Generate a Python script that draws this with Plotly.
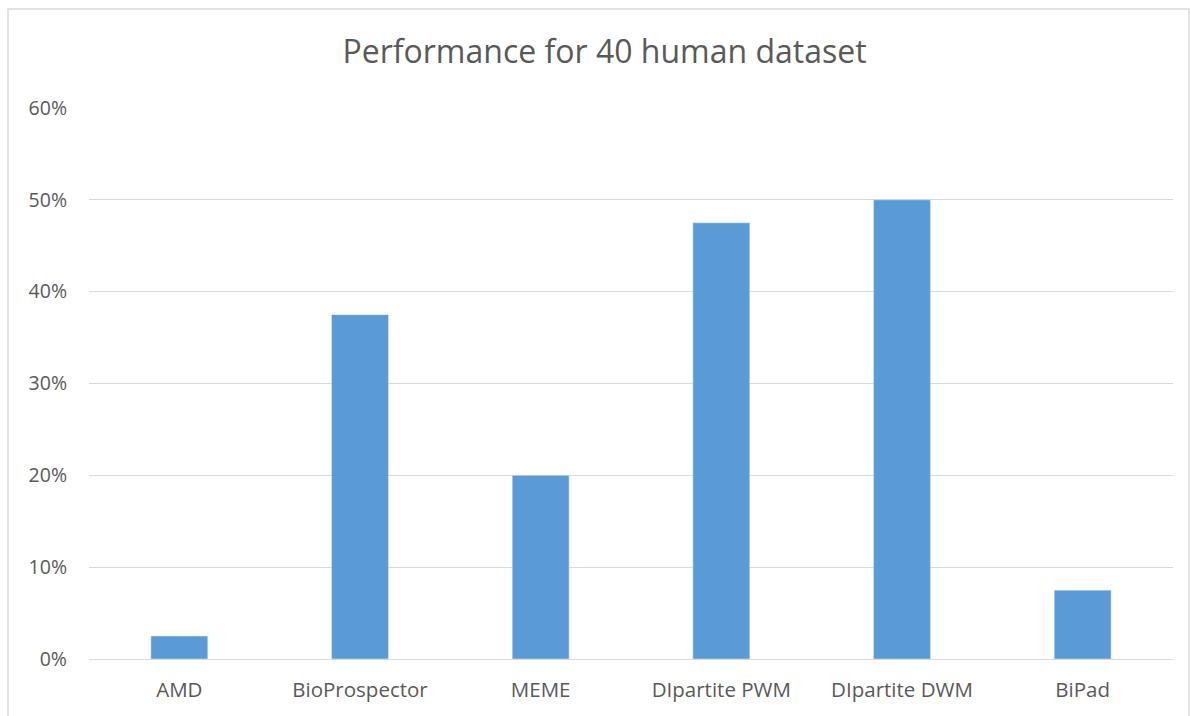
import plotly.graph_objects as go

categories = ["AMD", "BioProspector", "MEME", "DIpartite PWM", "DIpartite DWM", "BiPad"]
values = [0.025, 0.375, 0.20, 0.475, 0.50, 0.075]
y_ticks = [0, 0.1, 0.2, 0.3, 0.4, 0.5, 0.6]

W, H = 1190, 716
ml, mr, mt, mb = 89, 17, 108, 57
pw, ph = W - ml - mr, H - mt - mb

def px_x(x):
    return (x - ml) / pw

def px_y(y):
    return (H - mb - y) / ph

fig = go.Figure(go.Bar(x=categories, y=values, marker_color="#5b9bd5", width=0.315))

fig.update_layout(
    width=W, height=H,
    margin=dict(l=ml, r=mr, t=mt, b=mb),
    paper_bgcolor="white", plot_bgcolor="white",
    font=dict(family="Open Sans", color="#595959", size=16),
    title=dict(text="Performance for 40 human dataset", x=0.508, xref="container", xanchor="center",
               y=1 - 52 / H, yanchor="middle", font=dict(size=32, color="#595959")),
    showlegend=False,
    yaxis=dict(range=[0, 0.6], tickvals=y_ticks, tickformat=".0%", showgrid=True,
               gridcolor="#d9d9d9", gridwidth=1, zeroline=False, ticks="", ticklen=0,
               showline=False, tickfont=dict(size=19.5), ticklabelstandoff=21),
    xaxis=dict(showline=True, linecolor="#d9d9d9", linewidth=1, ticks="",
               tickfont=dict(size=20.5), ticklabelstandoff=12),
    shapes=[dict(type="rect", xref="paper", yref="paper",
                 x0=px_x(8), x1=px_x(1189), y0=px_y(760), y1=px_y(9),
                 line=dict(color="#d9d9d9", width=1.5), fillcolor="rgba(0,0,0,0)", layer="below")],
)

fig.write_html("out.html")
